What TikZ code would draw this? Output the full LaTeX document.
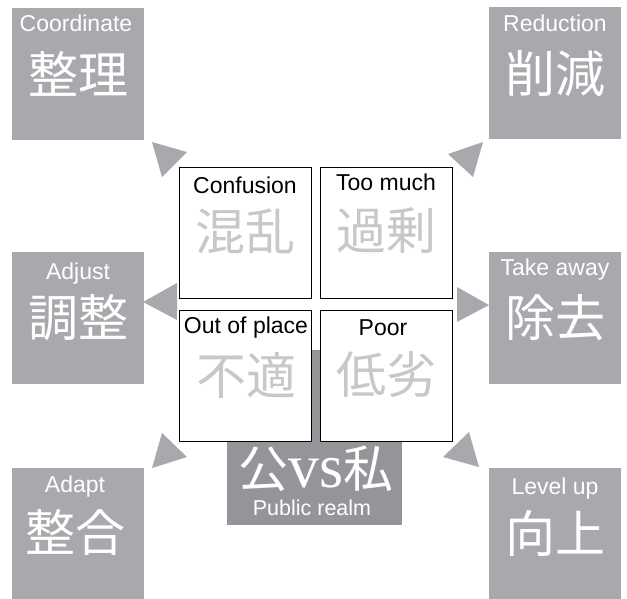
\documentclass[tikz,border=0pt]{standalone}
\usepackage{fontspec}
\setmainfont{Liberation Sans}
\newfontfamily\cjk{Noto Sans CJK JP}
\newfontfamily\serifv{Liberation Serif}
\definecolor{boxgray}{HTML}{A7A9AC}
\definecolor{darkgraybox}{HTML}{939598}
\definecolor{lightcjk}{HTML}{C7C8CA}
\tikzset{
  gbox/.style={fill=boxgray, draw=none, minimum width=132pt, minimum height=132pt, inner sep=0pt, anchor=north west},
  cbox/.style={draw=black, line width=1.3pt, fill=white, minimum width=132pt, minimum height=131pt, inner sep=0pt, anchor=north west},
  pbox/.style={fill=darkgraybox, draw=none, minimum width=175pt, minimum height=175pt, inner sep=0pt, anchor=north west},
  en/.style={text=white, inner sep=0pt, font=\fontsize{23}{25}\selectfont},
  kanji/.style={text=white, inner sep=0pt, font=\cjk\fontsize{50}{52}\selectfont},
  cen/.style={text=black, inner sep=0pt, font=\fontsize{23}{25}\selectfont},
  ckanji/.style={text=lightcjk, inner sep=0pt, font=\cjk\fontsize{50}{52}\selectfont},
  tri/.style={fill=boxgray, draw=none}
}
\begin{document}
\begin{tikzpicture}[x=1pt,y=-1pt]
\useasboundingbox (0,0) rectangle (627,598);
% outer gray boxes
\node[gbox] (tl) at (12,8) {};
\node[gbox] (tr) at (489,7) {};
\node[gbox] (ml) at (12,252) {};
\node[gbox] (mr) at (489,252) {};
\node[gbox] (bl) at (12,468) {};
\node[gbox] (br) at (489,468) {};
% public realm box
\node[pbox] (pub) at (227,350) {};
% triangles
\fill[tri] (152,142) -- (187,152) -- (162,177) -- cycle;
\fill[tri] (483,142) -- (448,154) -- (473,177) -- cycle;
\fill[tri] (143,302) -- (177,283) -- (177,320) -- cycle;
\fill[tri] (489,305) -- (457,287) -- (457,322) -- cycle;
\fill[tri] (152,468) -- (162,433) -- (187,457) -- cycle;
\fill[tri] (479,467) -- (469,432) -- (443,457) -- cycle;
% center boxes
\node[cbox] (c1) at (179,167) {};
\node[cbox] (c2) at (320,167) {};
\node[cbox] (c3) at (179,310) {};
\node[cbox] (c4) at (320,310) {};
% outer texts
\node[en] (tlt) at (76,23) {Coordinate};
\node[kanji] (tlk) at (78,74) {整理};
\node[en] (trt) at (555,23) {Reduction};
\node[kanji] (trk) at (555,74) {削減};
\node[en] (mlt) at (78,274) {Adjust};
\node[kanji] (mlk) at (78,318) {調整};
\node[en] (mrt) at (555,270) {Take away};
\node[kanji] (mrk) at (555,318) {除去};
\node[en] (blt) at (75,487) {Adapt};
\node[kanji] (blk) at (75,533) {整合};
\node[en] (brt) at (555,489) {Level up};
\node[kanji] (brk) at (555,533) {向上};
% center texts
\node[cen] (c1t) at (245,185) {Confusion};
\node[ckanji] (c1k) at (245,231) {混乱};
\node[cen] (c2t) at (386,182) {Too much};
\node[ckanji] (c2k) at (386,231) {過剰};
\node[cen] (c3t) at (246,328) {Out of place};
\node[ckanji] (c3k) at (246,375) {不適};
\node[cen] (c4t) at (383,328) {Poor};
\node[ckanji] (c4k) at (386,375) {低劣};
% public realm texts
\node[text=white, inner sep=0pt] (pubk) at (316,469) {{\cjk\fontsize{50}{52}\selectfont 公}{\serifv\fontsize{62}{64}\selectfont vs}{\cjk\fontsize{50}{52}\selectfont 私}};
\node[en, font=\fontsize{21.5}{23}\selectfont] (pubt) at (312,508) {Public realm};
\end{tikzpicture}
\end{document}
